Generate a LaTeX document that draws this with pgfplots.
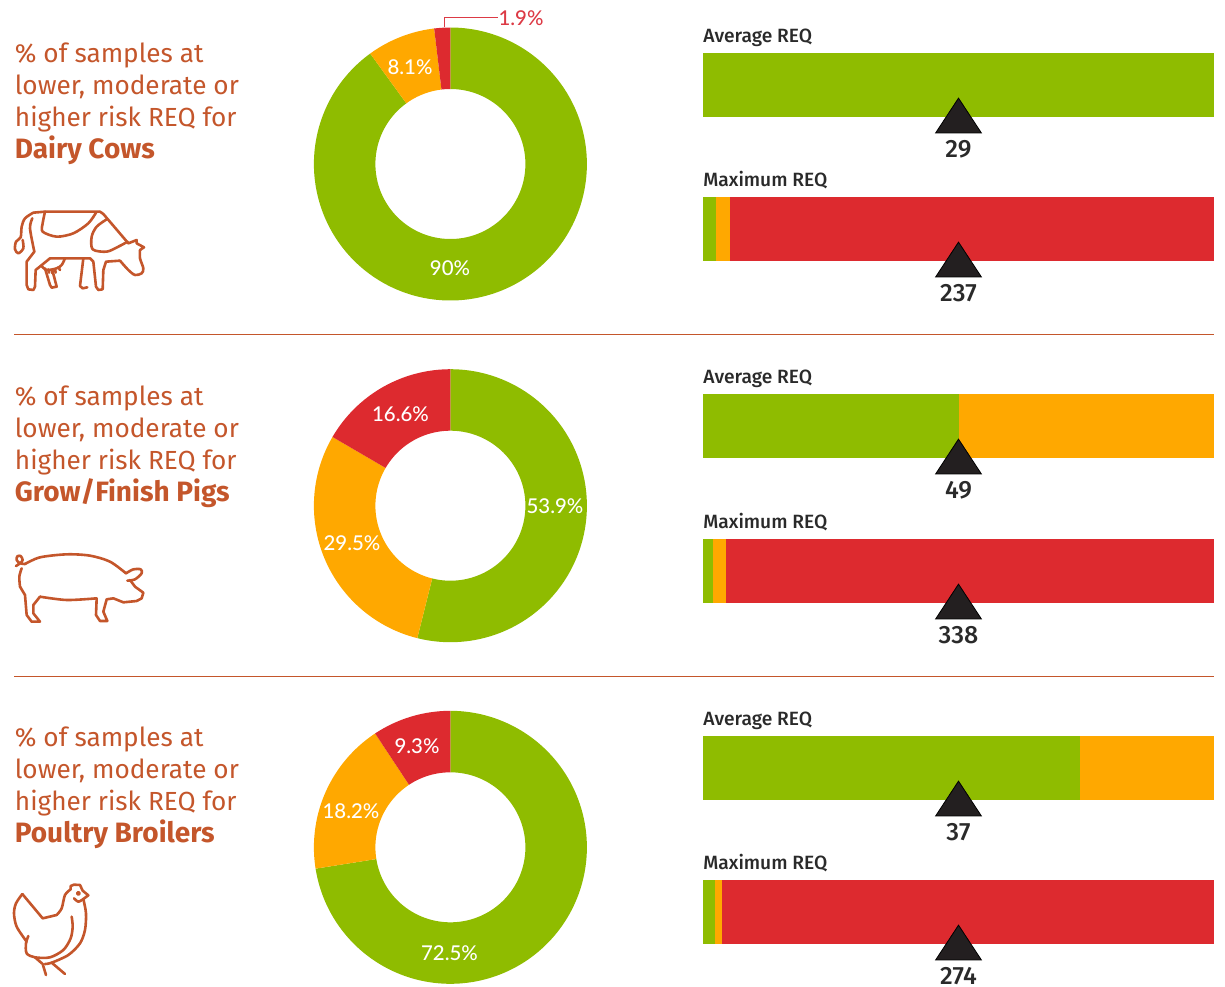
\documentclass[border=0pt]{standalone}
\usepackage{pgfplots}
\pgfplotsset{compat=1.18}
\usepackage{fontspec}
\setmainfont{Fira Sans}
\newfontfamily\medfont{Fira Sans Medium}
\newfontfamily\donutfont{Lato Medium}

\definecolor{lowgreen}{HTML}{8FBC00}
\definecolor{modorange}{HTML}{FFA800}
\definecolor{highred}{HTML}{DD2A2F}
\definecolor{rust}{HTML}{C4562B}
\definecolor{calloutred}{HTML}{DC3A45}
\definecolor{marker}{HTML}{231F20}
\definecolor{inkgrey}{HTML}{2A2A2A}

\pgfplotsset{canvas/.style={scale only axis,hide axis,clip=false,enlargelimits=false},
  icon/.style={canvas,anchor=south west,y dir=reverse,
    every axis plot post/.append style={rust,solid,line width=1.3pt,mark=none,line join=round,line cap=round}}}

% One ring segment between two cumulative percentages, clockwise from twelve o'clock.
\newcommand\donutwedge[5]{%
  \gdef\wedgepts{}%
  \pgfmathsetmacro\angA{90-3.6*(#3)}%
  \pgfmathsetmacro\angB{90-3.6*(#4)}%
  \pgfmathtruncatemacro\nseg{max(2,ceil(((#4)-(#3))*3.6/1.5))}%
  \foreach \i in {0,...,\nseg}{%
    \pgfmathsetmacro\ang{\angA+(\i/\nseg)*(\angB-\angA)}%
    \pgfmathsetmacro\ptx{#1+136.5*cos(\ang)}%
    \pgfmathsetmacro\pty{#2-136.5*sin(\ang)}%
    \xdef\wedgepts{\wedgepts(\ptx,\pty)}%
  }%
  \foreach \i in {\nseg,...,0}{%
    \pgfmathsetmacro\ang{\angA+(\i/\nseg)*(\angB-\angA)}%
    \pgfmathsetmacro\ptx{#1+75*cos(\ang)}%
    \pgfmathsetmacro\pty{#2-75*sin(\ang)}%
    \xdef\wedgepts{\wedgepts(\ptx,\pty)}%
  }%
  \edef\wedgecmd{\noexpand\addplot[fill=#5,draw=none,no markers,forget plot] coordinates {\wedgepts};}%
  \wedgecmd
}
% centre x, centre y, lower, moderate, higher
\newcommand\donut[5]{%
  \pgfmathsetmacro\cumA{#3}%
  \pgfmathsetmacro\cumB{#3+#4}%
  \donutwedge{#1}{#2}{0}{\cumA}{lowgreen}%
  \donutwedge{#1}{#2}{\cumA}{\cumB}{modorange}%
  \donutwedge{#1}{#2}{\cumB}{100}{highred}%
}
\newcommand\dlabel[3]{\node[font=\donutfont\fontsize{10.2pt}{12pt}\selectfont,text=white,anchor=center,inner sep=0pt] at (axis cs:#1,#2) {#3};}

% Four-line caption on the left; the first four arguments are line baselines.
\newcommand\rowcaption[5]{%
  \node[capt] at (axis cs:14.5,#1) {\% of samples at};
  \node[capt] at (axis cs:14.5,#2) {lower, moderate or};
  \node[capt] at (axis cs:14.5,#3) {higher risk REQ for};
  \node[capt,font=\fontsize{14pt}{16pt}\selectfont\bfseries] at (axis cs:14.5,#4) {#5};
}

% Horizontal REQ bar: top edge in pixels, heading, axis maximum, marked value,
% then the cumulative segment ends, drawn from longest to shortest.
\newcommand\reqbar[5]{%
\begin{axis}[canvas,at={(351.5pt,{(986-(#1)-64)*0.5pt})},anchor=south west,
  width=255.5pt,height=32pt,xmin=0,xmax=#3,ymin=0,ymax=1]
  \foreach \segcol/\segend in {#5}{%
    \edef\segcmd{\noexpand\addplot[xbar,bar width=32pt,bar shift=0pt,fill=\segcol,draw=none,no markers,forget plot] coordinates {(\segend,0.5)};}%
    \segcmd
  }
  \addplot[only marks,mark=triangle*,mark size=11.6pt,mark options={fill=marker,draw=none,xscale=1.138},forget plot] coordinates {(#4,-0.0677)};
  \node[anchor=base west,inner sep=0pt,text=inkgrey,font=\medfont\fontsize{9.6pt}{11pt}\selectfont] at (axis cs:0,1.17) {#2};
  \node[anchor=base,inner sep=0pt,text=inkgrey,font=\medfont\fontsize{12.5pt}{14pt}\selectfont] at (axis cs:#4,-0.63) {#4};
\end{axis}%
}

\begin{document}
\begin{tikzpicture}[capt/.style={anchor=base west,inner sep=0pt,text=rust,font=\fontsize{13.1pt}{15pt}\selectfont}]
\path[use as bounding box] (0pt,0pt) rectangle (612.5pt,493pt);
\begin{axis}[canvas,at={(0pt,0pt)},anchor=south west,width=612.5pt,height=493pt,
  xmin=0,xmax=1225,ymin=0,ymax=986,y dir=reverse]
  \donut{450.4}{164}{90}{8.1}{1.9}
  \donut{450.4}{505.7}{53.9}{29.5}{16.6}
  \donut{450.4}{847.3}{72.5}{18.2}{9.3}

  \dlabel{450}{268}{90\%}
  \dlabel{410}{67}{8.1\%}
  \dlabel{555}{506}{53.9\%}
  \dlabel{352}{543}{29.5\%}
  \dlabel{400.5}{414}{16.6\%}
  \dlabel{449.5}{953}{72.5\%}
  \dlabel{351}{811}{18.2\%}
  \dlabel{417}{746}{9.3\%}

  % callout for the thin dairy segment
  \addplot[calloutred,line width=0.5pt,no markers,forget plot] coordinates {(444,27)(444,17)(498,17)};
  \node[anchor=center,inner sep=0pt,text=calloutred,font=\donutfont\fontsize{10.2pt}{12pt}\selectfont] at (axis cs:521,18) {1.9\%};

  % row separators
  \addplot[rust,line width=0.6pt,no markers,forget plot] coordinates {(14,334.5)(1214,334.5)};
  \addplot[rust,line width=0.6pt,no markers,forget plot] coordinates {(14,676.5)(1214,676.5)};

  \rowcaption{62}{94}{126}{158}{Dairy Cows}
  \rowcaption{405}{437}{469}{501}{Grow/Finish Pigs}
  \rowcaption{746}{778}{810}{842}{Poultry Broilers}
\end{axis}

\reqbar{53}{Average REQ}{58}{29}{lowgreen/58}
\reqbar{197}{Maximum REQ}{474}{237}{highred/474,modorange/25,lowgreen/12}
\reqbar{394}{Average REQ}{98}{49}{modorange/98,lowgreen/49}
\reqbar{539}{Maximum REQ}{676}{338}{highred/676,modorange/30,lowgreen/13.2}
\reqbar{736}{Average REQ}{74}{37}{modorange/74,lowgreen/54.6}
\reqbar{880}{Maximum REQ}{548}{274}{highred/548,modorange/20,lowgreen/13}

% Cow outline
\begin{axis}[icon,at={(0pt,{(986-310)*0.5pt})},width=85pt,height=60pt,
  xmin=0,xmax=510,ymin=0,ymax=360]
  \addplot coordinates {(300,65)(135,65)(100,68)};
  \addplot[smooth] coordinates {(100,68)(75,85)(65,110)(62,142)(48,155)(45,178)(55,190)(70,175)(68,150)};
  \addplot[smooth] coordinates {(97,85)(90,115)(103,185)};
  \addplot coordinates {(103,185)(80,215)(80,285)(85,298)(100,300)(105,290)(107,240)(150,205)(270,205)(280,215)(288,290)(295,300)(308,298)(310,240)(318,215)(360,212)};
  \addplot[smooth] coordinates {(360,212)(385,240)(405,255)(425,250)(430,235)(420,205)(420,180)};
  \addplot coordinates {(420,180)(432,172)(410,160)(410,150)(385,160)(310,72)(300,65)};
  \addplot[smooth] coordinates {(135,65)(128,100)(128,125)(170,140)(220,130)(265,100)(288,68)};
  \addplot[smooth] coordinates {(320,88)(290,110)(275,140)(278,178)(320,185)(355,170)(383,155)};
  \addplot[smooth] coordinates {(125,228)(140,240)(170,235)(185,225)(195,205)};
  \addplot coordinates {(135,235)(150,285)(155,293)(170,290)(157,240)};
  \addplot coordinates {(145,238)(147,248)};
  \addplot coordinates {(155,240)(157,250)};
  \addplot coordinates {(165,238)(167,248)};
  \addplot coordinates {(175,232)(180,240)};
  \addplot coordinates {(250,205)(240,288)(248,295)(262,292)};
\end{axis}

% Pig outline
\begin{axis}[icon,at={(0pt,{(986-640)*0.5pt})},width=85pt,height=50pt,
  xmin=0,xmax=510,ymin=0,ymax=300]
  \addplot[smooth] coordinates {(48,78)(60,70)(68,60)(62,48)(52,49)(50,60)(60,70)(75,72)};
  \addplot[smooth] coordinates {(75,72)(120,52)(200,43)(270,47)(330,65)(378,100)};
  \addplot[smooth] coordinates {(378,100)(400,88)(422,88)(425,100)(405,118)(382,122)};
  \addplot coordinates {(390,120)(405,140)(430,158)(425,175)(410,183)(370,187)(340,175)(320,178)(310,215)(322,243)(300,243)(288,225)(290,175)};
  \addplot[smooth] coordinates {(290,175)(200,180)(120,170)};
  \addplot coordinates {(120,170)(100,195)(100,220)(120,245)(95,245)(80,225)(75,165)(60,140)};
  \addplot[smooth] coordinates {(60,140)(58,110)(65,85)};
\end{axis}

% Hen outline
\begin{axis}[icon,at={(0pt,{(986-986)*0.5pt})},width=55pt,height=58pt,
  xmin=0,xmax=330,ymin=0,ymax=348]
  \addplot coordinates {(67,72)(128,145)(170,135)};
  \addplot[smooth] coordinates {(170,135)(185,115)(195,75)(212,58)};
  \addplot coordinates {(212,58)(212,48)(222,44)(240,45)(248,62)(265,76)(250,87)};
  \addplot[smooth] coordinates {(250,87)(258,130)(255,180)(240,220)(205,255)(155,278)(135,282)};
  \addplot[smooth] coordinates {(67,72)(48,100)(42,130)(50,170)(80,215)};
  \addplot[smooth] coordinates {(85,198)(78,220)(80,250)(105,262)(150,262)(190,240)(212,205)(218,170)(215,140)};
  \addplot[smooth] coordinates {(222,85)(235,95)(250,87)};
  \addplot[line width=0.7pt,smooth cycle] coordinates {(231,70)(235,66)(239,70)(235,74)};
  \addplot coordinates {(105,262)(128,282)(138,315)};
  \addplot coordinates {(155,278)(195,312)};
\end{axis}
\end{tikzpicture}
\end{document}
